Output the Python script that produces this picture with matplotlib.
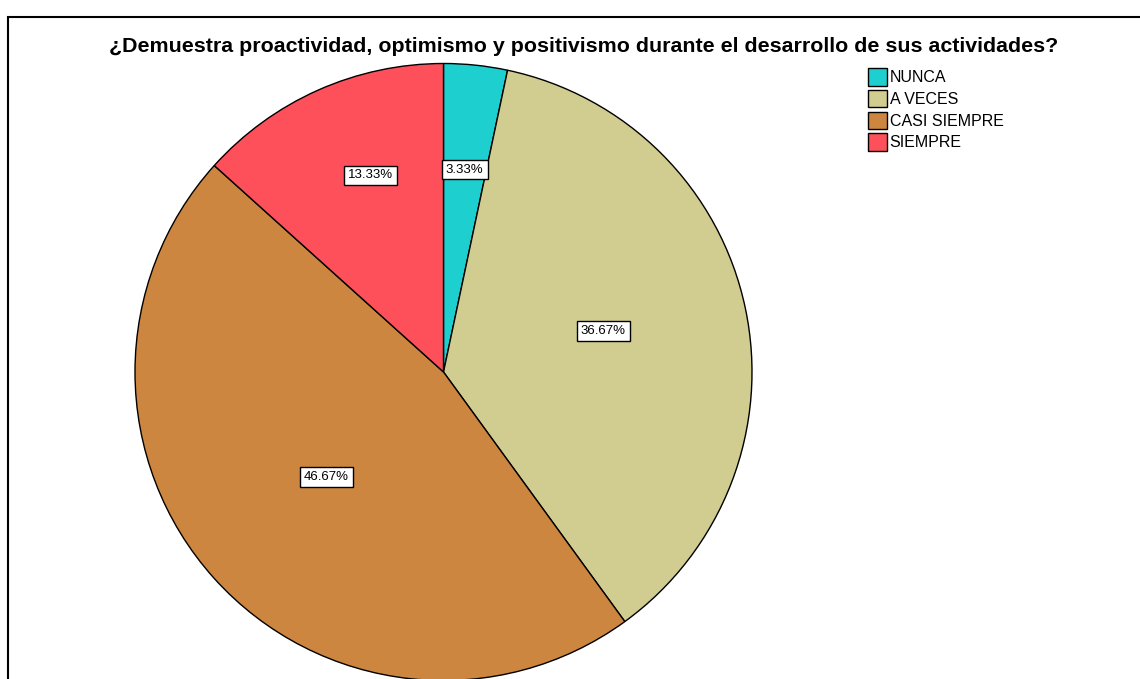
import numpy as np
import matplotlib.pyplot as plt
from matplotlib.patches import Rectangle

plt.rcParams['font.family'] = ['Liberation Sans', 'DejaVu Sans']

# Data
categories = ['NUNCA', 'A VECES', 'CASI SIEMPRE', 'SIEMPRE']
percentages = [3.33, 36.67, 46.67, 13.33]
colors = ['#1ECFCF', '#D1CC8F', '#CD8640', '#FD505A']
label_radius = [0.66, 0.534, 0.51, 0.68]
label_shift = [0, 2.4, 0, -3.5]  # degrees, nudges label along the arc

title = '¿Demuestra proactividad, optimismo y positivismo durante el desarrollo de sus actividades?'

W, H = 1140, 679
fig = plt.figure(figsize=(W / 100, H / 100), dpi=100)

# outer frame (extends beyond right and bottom edges)
frame = Rectangle((8 / W, -0.1), 1.2, 1 - 17 / H + 0.1, transform=fig.transFigure,
                  fill=False, edgecolor='black', linewidth=1.5)
fig.patches.append(frame)

cx, cy, r = 443.5, 372, 308.5
ax = fig.add_axes([(cx - r) / W, (H - cy - r) / H, 2 * r / W, 2 * r / H])
wedges, _ = ax.pie(percentages, colors=colors, startangle=90, counterclock=False,
                   radius=1, wedgeprops=dict(edgecolor='black', linewidth=1))
ax.set_xlim(-1, 1)
ax.set_ylim(-1, 1)
ax.set_aspect('equal')
ax.axis('off')

for w, pct, rr, sh in zip(wedges, percentages, label_radius, label_shift):
    ang = np.deg2rad((w.theta1 + w.theta2) / 2 + sh)
    ax.text(rr * np.cos(ang), rr * np.sin(ang), f'{pct:.2f}%', ha='center', va='center',
            fontsize=9.5,
            bbox=dict(boxstyle='square,pad=0.3', facecolor='white', edgecolor='black', linewidth=1))

fig.text(584 / W, 1 - 46 / H, title, ha='center', va='center', fontsize=15.4, fontweight='bold')

leg = fig.legend(wedges, categories, loc='upper left', bbox_to_anchor=(857 / W, 1 - 57 / H),
                 frameon=False, fontsize=11.5, handlelength=1.2, handleheight=1.3,
                 handletextpad=0.15, labelspacing=0.27, borderpad=0.2)

fig.savefig('out.png', dpi=100)
